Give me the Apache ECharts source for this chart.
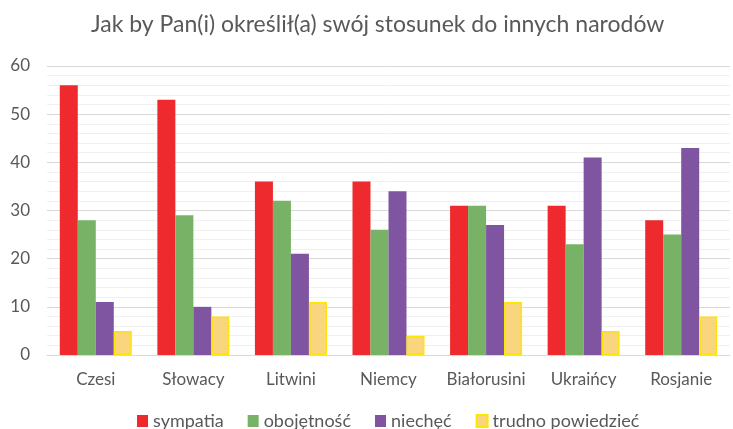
<!DOCTYPE html>
<html>
<head>
<meta charset="utf-8">
<script src="https://cdn.jsdelivr.net/npm/echarts@6/dist/echarts.min.js"></script>
<style>
  html, body { margin: 0; padding: 0; background: #fff; }
  #chart { width: 733px; height: 429px; }
</style>
</head>
<body>
<div id="chart"></div>
<script>
const categories = ['Czesi', 'Słowacy', 'Litwini', 'Niemcy', 'Białorusini', 'Ukraińcy', 'Rosjanie'];
const sympatia = [56, 53, 36, 36, 31, 31, 28];
const obojetnosc = [28, 29, 32, 26, 31, 23, 25];
const niechec = [11, 10, 21, 34, 27, 41, 43];
const trudno = [5, 8, 11, 4, 11, 5, 8];

var chart = echarts.init(document.getElementById('chart'));

function bar(name, data, color, border) {
  return {
    name: name,
    type: 'bar',
    data: data,
    barWidth: 18,
    barGap: '0%',
    itemStyle: { color: color, borderColor: border || color, borderWidth: border ? 1.5 : 0 }
  };
}

var option = {
  textStyle: { fontFamily: 'Lato' },
  title: {
    text: 'Jak by Pan(i) określił(a) swój stosunek do innych narodów',
    left: 86,
    top: 8,
    textStyle: { fontFamily: 'Lato', fontSize: 23, fontWeight: 'normal', color: '#595959' }
  },
  legend: {
    bottom: -6,
    left: 132,
    itemWidth: 11,
    itemHeight: 12,
    itemGap: 24,
    icon: 'rect',
    textStyle: { fontFamily: 'Lato', fontSize: 18, color: '#595959' },
    data: ['sympatia', 'obojętność', 'niechęć', 'trudno powiedzieć']
  },
  grid: { left: 47, right: 3, top: 66, bottom: 74 },
  xAxis: {
    type: 'category',
    data: categories,
    axisTick: { show: false },
    axisLine: { lineStyle: { color: '#d9d9d9' } },
    axisLabel: { fontSize: 17, color: '#595959', margin: 16, interval: 0 }
  },
  yAxis: {
    type: 'value',
    min: 0,
    max: 60,
    interval: 10,
    axisLabel: { fontSize: 17, color: '#595959', margin: 17 },
    splitLine: { lineStyle: { color: '#d9d9d9' } },
    minorTick: { show: false, splitNumber: 5 },
    minorSplitLine: { show: true, lineStyle: { color: '#f0f0f0' } }
  },
  series: [
    bar('sympatia', sympatia, '#ee2a2f'),
    bar('obojętność', obojetnosc, '#78b266'),
    bar('niechęć', niechec, '#7f55a1'),
    bar('trudno powiedzieć', trudno, '#f9d57e', '#ffe600')
  ]
};
chart.setOption(option);
</script>
</body>
</html>
